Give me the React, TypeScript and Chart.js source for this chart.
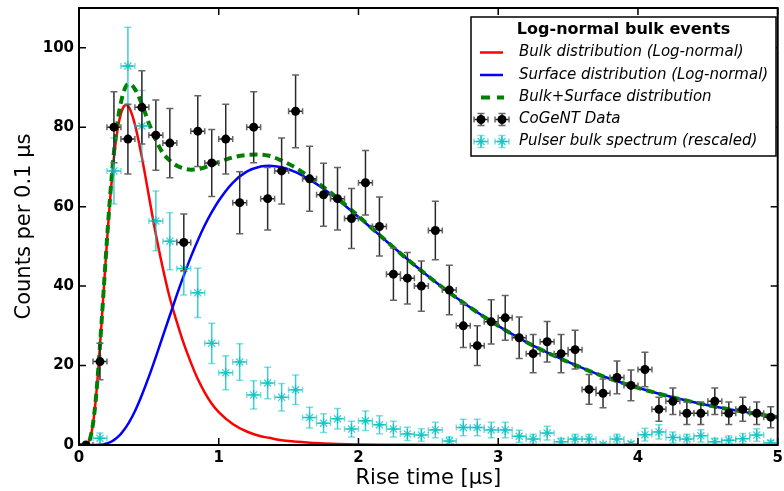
import React, { useEffect, useRef } from "react";
import { Chart, registerables } from "chart.js";
Chart.register(...registerables);

const FONT = "'DejaVu Sans', sans-serif";
const CYAN = "rgba(0,191,191,0.75)";

// ---- CoGeNT data (bin centres, counts per 0.1 us) ----
const dataX = [0.05, 0.15, 0.25, 0.35, 0.45, 0.55, 0.65, 0.75, 0.85, 0.95, 1.05, 1.15, 1.25, 1.35, 1.45, 1.55, 1.65, 1.75, 1.85, 1.95, 2.05, 2.15, 2.25, 2.35, 2.45, 2.55, 2.65, 2.75, 2.85, 2.95, 3.05, 3.15, 3.25, 3.35, 3.45, 3.55, 3.65, 3.75, 3.85, 3.95, 4.05, 4.15, 4.25, 4.35, 4.45, 4.55, 4.65, 4.75, 4.85, 4.95];
const dataY = [0, 21, 80, 77, 85, 78, 76, 51, 79, 71, 77, 61, 80, 62, 69, 84, 67, 63, 62, 57, 66, 55, 43, 42, 40, 54, 39, 30, 25, 31, 32, 27, 23, 26, 23, 24, 14, 13, 17, 15, 19, 9, 11, 8, 8, 11, 8, 9, 8, 7];

// ---- Pulser bulk spectrum (rescaled) ----
const pulserX = [0.15, 0.25, 0.35, 0.45, 0.55, 0.65, 0.75, 0.85, 0.95, 1.05, 1.15, 1.25, 1.35, 1.45, 1.55, 1.65, 1.75, 1.85, 1.95, 2.05, 2.15, 2.25, 2.35, 2.45, 2.55, 2.65, 2.75, 2.85, 2.95, 3.05, 3.15, 3.25, 3.35, 3.45, 3.55, 3.65, 3.75, 3.85, 3.95, 4.05, 4.15, 4.25, 4.35, 4.45, 4.55, 4.65, 4.75, 4.85, 4.95];
const pulserY = [1.7, 69, 95.4, 80.3, 56.4, 51.3, 44.4, 38.3, 25.6, 18.2, 20.9, 12.6, 15.6, 12, 13.9, 6.9, 5.5, 6.6, 4.0, 6.1, 5.1, 4.0, 2.8, 2.5, 3.8, 1.0, 4.4, 4.4, 3.8, 3.8, 2.2, 1.5, 3.0, 0.8, 1.5, 1.5, 0.1, 1.5, 0.3, 2.6, 3.3, 1.9, 1.5, 2.3, 0.8, 1.2, 1.6, 2.5, 0.5];

const binHalfWidth = 0.05;

// ---- Fitted curves ----
const curveX = [0, 0.04, 0.06, 0.08, 0.10, 0.12, 0.14, 0.16, 0.18, 0.20, 0.22, 0.24, 0.26, 0.28, 0.30, 0.32, 0.34, 0.36, 0.40, 0.45, 0.50, 0.55, 0.60, 0.65, 0.70, 0.75, 0.80, 0.85, 0.90, 0.95, 1.00, 1.10, 1.20, 1.30, 1.36, 1.45, 1.55, 1.65, 1.75, 1.85, 2.00, 2.20, 2.40, 2.60, 2.80, 3.00, 3.25, 3.50, 3.75, 4.00, 4.25, 4.50, 4.75, 5.00];
const bulkY = [0, 0, 0.3, 1.7, 5.3, 11.4, 20.0, 30.0, 40.7, 51.2, 60.7, 68.9, 75.4, 80.2, 83.4, 85.2, 85.6, 84.9, 80.7, 72.4, 62.7, 53.0, 44.5, 37.0, 31.0, 25.5, 20.8, 16.6, 13.2, 10.4, 8.3, 5.3, 3.4, 2.2, 1.8, 1.2, 0.85, 0.55, 0.4, 0.28, 0.15, 0.08, 0.04, 0.02, 0.01, 0, 0, 0, 0, 0, 0, 0, 0, 0];
const surfaceY = [0, 0, 0, 0, 0, 0, 0.05, 0.11, 0.22, 0.40, 0.66, 1.0, 1.5, 2.1, 2.8, 3.7, 4.7, 5.8, 8.5, 12.6, 17.2, 22.2, 27.4, 32.6, 37.8, 42.7, 47.3, 51.5, 55.3, 58.6, 61.5, 66.0, 68.8, 70.1, 70.3, 69.9, 68.7, 66.8, 64.5, 61.8, 57.4, 51.3, 45.3, 39.7, 34.6, 30.0, 25.0, 20.9, 17.3, 14.4, 12.0, 10.0, 8.4, 7.0];
const sumY = [0, 0, 0.3, 1.7, 5.3, 11.4, 20.1, 30.1, 40.9, 51.6, 61.4, 69.9, 76.9, 82.3, 86.2, 88.9, 90.5, 90.9, 89.6, 85.8, 81.0, 76.8, 73.5, 71.6, 70.3, 69.6, 69.3, 69.4, 69.9, 70.6, 71.2, 72.4, 73.0, 73.1, 72.8, 71.6, 69.8, 67.4, 64.9, 62.1, 57.6, 51.3, 45.3, 39.7, 34.6, 30.0, 25.0, 20.9, 17.3, 14.4, 12.0, 10.0, 8.4, 7.0];

const xTickValues = [0, 1, 2, 3, 4, 5];
const yTickValues = [0, 20, 40, 60, 80, 100];

const legendTitle = "Log-normal bulk events";
const legendLabels = [
  "Bulk distribution (Log-normal)",
  "Surface distribution (Log-normal)",
  "Bulk+Surface distribution",
  "CoGeNT Data",
  "Pulser bulk spectrum (rescaled)",
];

const pts = (xs: number[], ys: number[]) => xs.map((x, i) => ({ x, y: ys[i] }));

function drawErrorBars(chart: any, xs: number[], ys: number[], color: string, capColor: string) {
  const { ctx, chartArea, scales } = chart;
  const sx = scales.x, sy = scales.y;
  ctx.save();
  ctx.beginPath();
  ctx.rect(chartArea.left, chartArea.top, chartArea.right - chartArea.left, chartArea.bottom - chartArea.top);
  ctx.clip();
  ctx.lineWidth = 1.5;
  for (let i = 0; i < xs.length; i++) {
    const v = ys[i];
    const e = Math.sqrt(v);
    const px = sx.getPixelForValue(xs[i]);
    const py = sy.getPixelForValue(v);
    const y1 = sy.getPixelForValue(v + e);
    const y2 = sy.getPixelForValue(v - e);
    const x1 = sx.getPixelForValue(xs[i] - binHalfWidth);
    const x2 = sx.getPixelForValue(xs[i] + binHalfWidth);
    ctx.strokeStyle = color;
    ctx.beginPath();
    ctx.moveTo(px, y1); ctx.lineTo(px, y2);
    ctx.moveTo(x1, py); ctx.lineTo(x2, py);
    ctx.stroke();
    ctx.strokeStyle = capColor;
    ctx.beginPath();
    ctx.moveTo(px - 3.5, y1); ctx.lineTo(px + 3.5, y1);
    ctx.moveTo(px - 3.5, y2); ctx.lineTo(px + 3.5, y2);
    ctx.moveTo(x1, py - 3); ctx.lineTo(x1, py + 3);
    ctx.moveTo(x2, py - 3); ctx.lineTo(x2, py + 3);
    ctx.stroke();
  }
  ctx.restore();
}

function drawStar(ctx: CanvasRenderingContext2D, x: number, y: number, r: number, color: string) {
  ctx.save();
  ctx.strokeStyle = color;
  ctx.lineWidth = 1.3;
  ctx.beginPath();
  ctx.moveTo(x - r, y); ctx.lineTo(x + r, y);
  ctx.moveTo(x, y - r); ctx.lineTo(x, y + r);
  const d = r * Math.SQRT1_2;
  ctx.moveTo(x - d, y - d); ctx.lineTo(x + d, y + d);
  ctx.moveTo(x - d, y + d); ctx.lineTo(x + d, y - d);
  ctx.stroke();
  ctx.restore();
}

function legendErrorMarker(ctx: CanvasRenderingContext2D, x: number, y: number, color: string, capColor: string, black: boolean) {
  ctx.save();
  ctx.lineWidth = 1.5;
  ctx.strokeStyle = color;
  ctx.beginPath();
  ctx.moveTo(x, y - 6); ctx.lineTo(x, y + 6);
  ctx.moveTo(x - 7, y); ctx.lineTo(x + 7, y);
  ctx.stroke();
  ctx.strokeStyle = capColor;
  ctx.beginPath();
  ctx.moveTo(x - 3.5, y - 6); ctx.lineTo(x + 3.5, y - 6);
  ctx.moveTo(x - 3.5, y + 6); ctx.lineTo(x + 3.5, y + 6);
  ctx.moveTo(x - 7, y - 3); ctx.lineTo(x - 7, y + 3);
  ctx.moveTo(x + 7, y - 3); ctx.lineTo(x + 7, y + 3);
  ctx.stroke();
  if (black) {
    ctx.fillStyle = "#000";
    ctx.beginPath();
    ctx.arc(x, y, 4.5, 0, Math.PI * 2);
    ctx.fill();
  } else {
    drawStar(ctx, x, y, 5, CYAN);
  }
  ctx.restore();
}

const framePlugin = {
  id: "frame",
  beforeDatasetDraw(chart: any, args: any) {
    if (args.index === 1) drawErrorBars(chart, pulserX, pulserY, CYAN, "rgba(0,191,191,0.5)");
    if (args.index === 0) drawErrorBars(chart, dataX, dataY, "#2a2a2a", "#666");
  },
  afterDatasetsDraw(chart: any) {
    const { ctx, chartArea: a, scales } = chart;
    ctx.save();
    ctx.strokeStyle = "#000";
    ctx.lineWidth = 1.5;
    ctx.beginPath();
    for (const v of xTickValues) {
      const px = scales.x.getPixelForValue(v);
      ctx.moveTo(px, a.bottom); ctx.lineTo(px, a.bottom - 7);
      ctx.moveTo(px, a.top); ctx.lineTo(px, a.top + 7);
    }
    for (const v of yTickValues) {
      const py = scales.y.getPixelForValue(v);
      ctx.moveTo(a.left, py); ctx.lineTo(a.left + 7, py);
      ctx.moveTo(a.right, py); ctx.lineTo(a.right - 7, py);
    }
    ctx.stroke();
    ctx.lineWidth = 2;
    ctx.strokeRect(a.left, a.top, a.right - a.left, a.bottom - a.top);
    ctx.restore();
  },
  afterDraw(chart: any) {
    const ctx: CanvasRenderingContext2D = chart.ctx;
    const x0 = 471, y0 = 17, x1 = 776, y1 = 156;
    ctx.save();
    ctx.fillStyle = "#fff";
    ctx.fillRect(x0, y0, x1 - x0, y1 - y0);
    ctx.strokeStyle = "#000";
    ctx.lineWidth = 1.5;
    ctx.strokeRect(x0, y0, x1 - x0, y1 - y0);
    ctx.fillStyle = "#000";
    ctx.textBaseline = "middle";
    ctx.textAlign = "center";
    ctx.font = `bold 16px ${FONT}`;
    ctx.fillText(legendTitle, (x0 + x1) / 2, 30);
    const rows = [52.5, 75, 97.5, 119.5, 141.5];
    ctx.textAlign = "left";
    ctx.font = `italic 15px ${FONT}`;
    legendLabels.forEach((t, i) => ctx.fillText(t, 519, rows[i]));
    // handles
    ctx.lineWidth = 2.5;
    ctx.strokeStyle = "#ff0000";
    ctx.beginPath(); ctx.moveTo(480, rows[0]); ctx.lineTo(503, rows[0]); ctx.stroke();
    ctx.strokeStyle = "#0000ff";
    ctx.beginPath(); ctx.moveTo(480, rows[1]); ctx.lineTo(503, rows[1]); ctx.stroke();
    ctx.strokeStyle = "#008000";
    ctx.lineWidth = 4;
    ctx.setLineDash([9, 7]);
    ctx.beginPath(); ctx.moveTo(481, rows[2]); ctx.lineTo(504, rows[2]); ctx.stroke();
    ctx.setLineDash([]);
    legendErrorMarker(ctx, 481, rows[3], "#2a2a2a", "#666", true);
    legendErrorMarker(ctx, 502, rows[3], "#2a2a2a", "#666", true);
    legendErrorMarker(ctx, 481, rows[4], CYAN, "rgba(0,191,191,0.5)", false);
    legendErrorMarker(ctx, 502, rows[4], CYAN, "rgba(0,191,191,0.5)", false);
    ctx.restore();
  },
};

export default function App() {
  const ref = useRef<HTMLCanvasElement>(null);
  useEffect(() => {
    const canvas = ref.current!;
    const tickFont = { family: FONT, size: 15, weight: "bold" as const };
    const chart = new Chart(canvas, {
      type: "scatter",
      data: {
        datasets: [
          {
            label: legendLabels[3],
            data: pts(dataX, dataY),
            pointStyle: "circle",
            pointRadius: 4.5,
            pointBackgroundColor: "#000",
            pointBorderWidth: 0,
            showLine: false,
            clip: 0,
          } as any,
          {
            label: legendLabels[4],
            data: pts(pulserX, pulserY),
            pointStyle: "star",
            pointRadius: 5,
            pointBorderColor: CYAN,
            pointBackgroundColor: CYAN,
            pointBorderWidth: 1.3,
            showLine: false,
            clip: 0,
          } as any,
          {
            label: legendLabels[2],
            data: pts(curveX, sumY),
            showLine: true,
            borderColor: "#008000",
            borderWidth: 4,
            borderDash: [8, 5],
            pointRadius: 0,
            cubicInterpolationMode: "monotone",
            clip: 0,
          } as any,
          {
            label: legendLabels[1],
            data: pts(curveX, surfaceY),
            showLine: true,
            borderColor: "#0000ff",
            borderWidth: 2.5,
            pointRadius: 0,
            cubicInterpolationMode: "monotone",
            clip: 0,
          } as any,
          {
            label: legendLabels[0],
            data: pts(curveX, bulkY),
            showLine: true,
            borderColor: "#ff0000",
            borderWidth: 2.5,
            pointRadius: 0,
            cubicInterpolationMode: "monotone",
            clip: 0,
          } as any,
        ],
      },
      options: {
        responsive: false,
        animation: false,
        devicePixelRatio: 1,
        events: [],
        layout: { padding: { top: 8, right: 3, left: 0, bottom: 0 } },
        plugins: { legend: { display: false }, tooltip: { enabled: false } },
        scales: {
          x: {
            type: "linear",
            min: 0,
            max: 5,
            grid: { display: false, drawTicks: false },
            border: { display: false },
            ticks: { stepSize: 1, font: tickFont, color: "#000", padding: 4, maxRotation: 0 },
            title: { display: true, text: "Rise time [μs]", color: "#000", font: { family: FONT, size: 21 }, padding: { top: 0, bottom: 0 } },
            afterFit: (s: any) => { s.height = 46; s.paddingLeft = 0; s.paddingRight = 0; },
          },
          y: {
            type: "linear",
            min: 0,
            max: 110,
            grid: { display: false, drawTicks: false },
            border: { display: false },
            ticks: { stepSize: 20, includeBounds: false, font: tickFont, color: "#000", padding: 5 },
            title: { display: true, text: "Counts per 0.1 μs", color: "#000", font: { family: FONT, size: 21 }, padding: { top: 12, bottom: 0 } },
            afterFit: (s: any) => { s.width = 79; s.paddingTop = 0; s.paddingBottom = 0; },
          },
        },
      } as any,
      plugins: [framePlugin],
    });
    return () => chart.destroy();
  }, []);
  return (
    <div style={{ position: "fixed", left: 0, top: 0, width: 784, height: 491, background: "#fff" }}>
      <canvas ref={ref} width={784} height={491} style={{ width: 784, height: 491, display: "block" }} />
    </div>
  );
}
